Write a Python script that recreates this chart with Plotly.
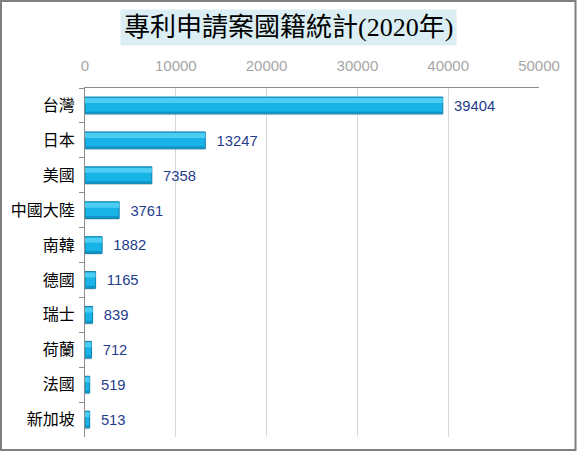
import plotly.graph_objects as go

countries = ['台灣', '日本', '美國', '中國大陸', '南韓', '德國', '瑞士', '荷蘭', '法國', '新加坡']
applications = [39404, 13247, 7358, 3761, 1882, 1165, 839, 712, 519, 513]
x_ticks = [0, 10000, 20000, 30000, 40000, 50000]

W, H = 577, 452
ML, MR, MT, MB = 85, 38, 88, 15
PW, PH = W - ML - MR, H - MT - MB

fig = go.Figure()

# soft shadow under each bar
fig.add_trace(go.Bar(
    y=countries, x=applications, orientation='h',
    width=0.5, offset=-0.22,
    marker=dict(color='rgba(0,0,0,0.12)', line=dict(width=0)),
    hoverinfo='skip', showlegend=False
))
# main bar body
fig.add_trace(go.Bar(
    y=countries, x=applications, orientation='h',
    width=0.48, offset=-0.24,
    marker=dict(color='#18b4e8', line=dict(color='#0f7fab', width=1)),
    text=[f'  {v}' for v in applications],
    textposition='outside', cliponaxis=False,
    textfont=dict(family='Arial, Liberation Sans', size=15, color='#1f3d8c'),
    showlegend=False
))
# highlight on the upper part
fig.add_trace(go.Bar(
    y=countries, x=applications, orientation='h',
    width=0.14, offset=-0.21,
    marker=dict(color='#4ecdf4', line=dict(width=0)),
    hoverinfo='skip', showlegend=False
))
# darker lower edge
fig.add_trace(go.Bar(
    y=countries, x=applications, orientation='h',
    width=0.06, offset=0.17,
    marker=dict(color='#1195c7', line=dict(width=0)),
    hoverinfo='skip', showlegend=False
))

fig.update_layout(
    width=W, height=H,
    margin=dict(l=ML, r=MR, t=MT, b=MB, autoexpand=False),
    paper_bgcolor='white', plot_bgcolor='white',
    barmode='overlay',
    font=dict(family='Arial, Liberation Sans, Noto Sans CJK TC'),
    xaxis=dict(
        side='top', range=[0, 50000], tickvals=x_ticks,
        ticktext=[str(t) for t in x_ticks],
        showgrid=True, gridcolor='#d9d9d9', gridwidth=1,
        showline=True, linecolor='#8c8c8c', linewidth=1,
        ticks='', zeroline=False, ticklabelstandoff=10,
        tickfont=dict(family='Arial, Liberation Sans', size=15, color='#a6a6a6'),
        fixedrange=True
    ),
    yaxis=dict(
        autorange='reversed', showline=True, linecolor='#8c8c8c', linewidth=1,
        ticks='outside', ticklen=5, tickcolor='#8c8c8c', tickson='boundaries',
        showgrid=False, automargin=False, ticklabelstandoff=6,
        tickfont=dict(family='Noto Sans CJK TC', size=16, color='black'),
        fixedrange=True
    ),
    annotations=[dict(
        text='專利申請案國籍統計(2020年)',
        xref='paper', yref='paper',
        x=(288 - ML) / PW, y=(H - MB - 28) / PH,
        xanchor='center', yanchor='middle', showarrow=False,
        bgcolor='#daeef3', borderpad=3,
        font=dict(family='Liberation Serif, Noto Sans CJK TC', size=26, color='black')
    )],
    # grey frame round the whole chart
    shapes=[dict(
        type='rect', xref='paper', yref='paper',
        x0=(1 - ML) / PW, x1=(W - 1.5 - ML) / PW,
        y0=-(MB - 2) / PH, y1=(H - 1 - MB) / PH,
        line=dict(color='#7f7f7f', width=2), layer='above'
    )]
)

fig.write_html('out.html', config={'displayModeBar': False},
               post_script="document.body.style.margin='0';")
